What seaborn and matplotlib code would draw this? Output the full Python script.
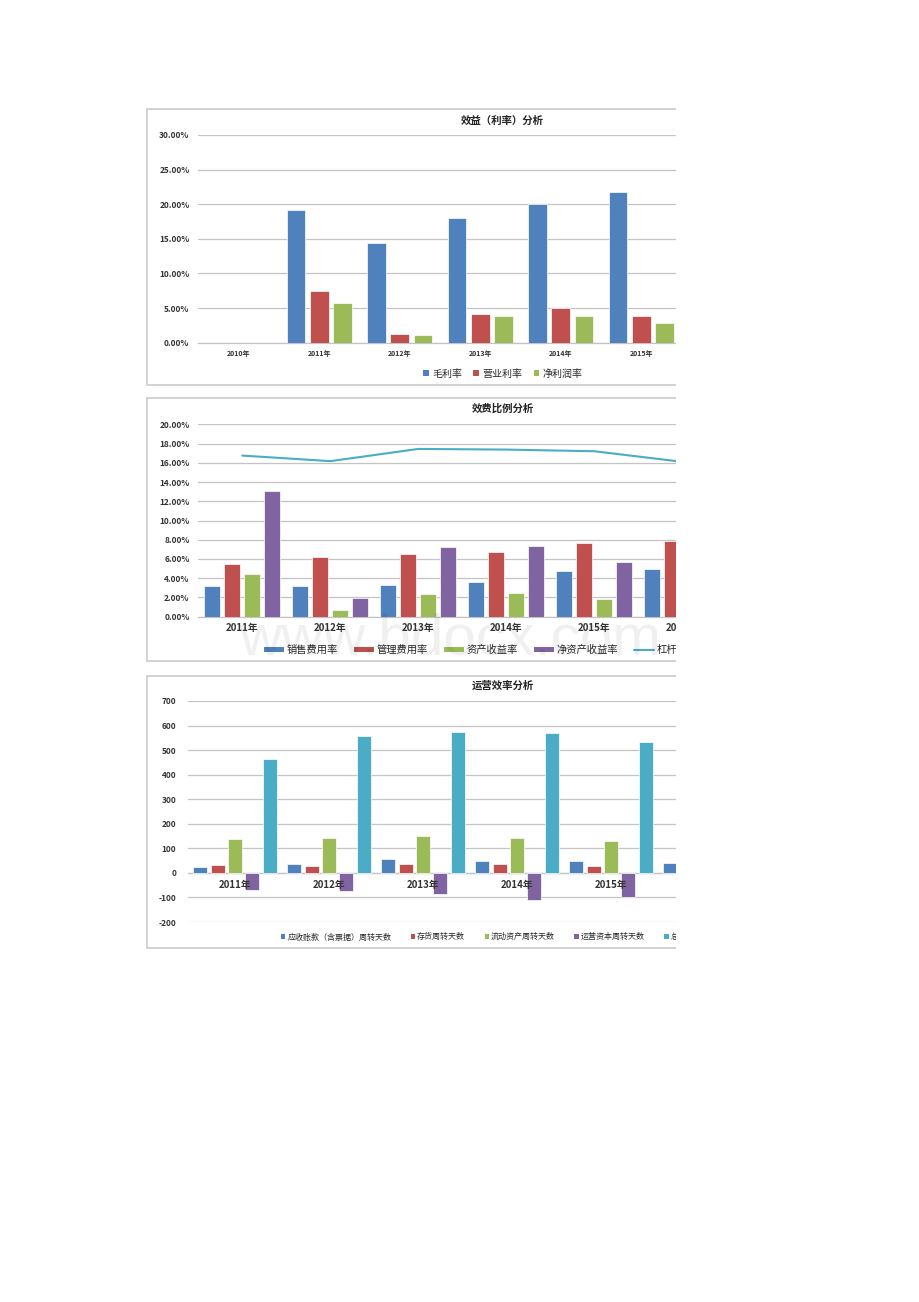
import numpy as np
import pandas as pd
import matplotlib
matplotlib.use("Agg")
import matplotlib.pyplot as plt
import seaborn as sns
from matplotlib.patches import Rectangle, Patch
from matplotlib.lines import Line2D

sns.set_style("white")
plt.rcParams["font.family"] = ["Noto Sans CJK SC", "DejaVu Sans"]

nan = np.nan

# ---------------- data: chart 1 ----------------
title1 = "效益（利率）分析"
years1 = ["2010年", "2011年", "2012年", "2013年", "2014年", "2015年"]
series1 = ["毛利率", "营业利率", "净利润率"]
gross_margin = [0, 19.2, 14.45, 18.0, 20.1, 21.7]
operating_margin = [0, 7.5, 1.3, 4.2, 5.0, 3.9]
net_margin = [0, 5.8, 1.06, 3.8, 3.8, 2.8]
yticks1 = [0, 5, 10, 15, 20, 25, 30]

# ---------------- data: chart 2 ----------------
title2 = "效费比例分析"
years2 = ["2011年", "2012年", "2013年", "2014年", "2015年", "2016年"]
series2 = ["销售费用率", "管理费用率", "资产收益率", "净资产收益率"]
selling_exp = [3.2, 3.14, 3.25, 3.63, 4.8, 4.93]
admin_exp = [5.5, 6.25, 6.5, 6.77, 7.7, 7.9]
roa = [4.4, 0.66, 2.38, 2.45, 1.85, nan]
roe = [13.1, 1.9, 7.25, 7.36, 5.65, nan]
leverage_name = "杠杆比率"
leverage = [16.75, 16.17, 17.44, 17.37, 17.2, 16.1]
yticks2 = [0, 2, 4, 6, 8, 10, 12, 14, 16, 18, 20]

# ---------------- data: chart 3 ----------------
title3 = "运营效率分析"
years3 = ["2011年", "2012年", "2013年", "2014年", "2015年", "2016年"]
series3 = ["应收账款（含票据）周转天数", "存货周转天数", "流动资产周转天数",
           "运营资本周转天数", "总资产周转天数"]
ar_days = [26, 35, 57, 50, 50, 39]
inv_days = [32, 30, 36, 36, 30, nan]
ca_days = [138, 141, 149, 141, 131, nan]
wc_days = [-69, -72, -86, -111, -99, nan]
ta_days = [463, 559, 574, 568, 534, nan]
yticks3 = [-200, -100, 0, 100, 200, 300, 400, 500, 600, 700]

watermark = "www.bdocx.com"

BLUE, RED, GREEN, PURPLE, CYAN = "#4F81BD", "#C0504D", "#9BBB59", "#8064A2", "#4BACC6"
GRID = "#C4C4C4"

W, H = 920, 1302
fig = plt.figure(figsize=(W / 100, H / 100), dpi=100)
fig.patch.set_facecolor("white")


def rect(l, t, r, b):
    return [l / W, 1 - b / H, (r - l) / W, (b - t) / H]


def long_df(years, series, cols):
    rows = []
    for s, vals in zip(series, cols):
        for y, v in zip(years, vals):
            rows.append({"year": y, "series": s, "value": v})
    return pd.DataFrame(rows)


def bars(ax, years, series, cols, colors, width, gap):
    df = long_df(years, series, cols)
    sns.barplot(data=df, x="year", y="value", hue="series", order=years,
                hue_order=series, palette=colors, saturation=1, width=width,
                gap=gap, edgecolor="white", linewidth=0.5, errorbar=None,
                legend=False, ax=ax)
    ax.set_xlim(-0.5, len(years) - 0.5)
    ax.set_xlabel("")
    ax.set_ylabel("")
    ax.set_facecolor("none")
    for s in ["top", "right", "left"]:
        ax.spines[s].set_visible(False)
    ax.spines["bottom"].set_color(GRID)
    ax.spines["bottom"].set_linewidth(0.9)
    ax.spines["bottom"].set_zorder(0.6)
    ax.yaxis.grid(True, color=GRID, linewidth=0.9)
    ax.set_axisbelow(True)
    ax.xaxis.set_zorder(3)
    ax.tick_params(length=0)


def box(t, b):
    fig.add_artist(Rectangle((147 / W, 1 - b / H), (905 - 147) / W, (b - t) / H,
                             transform=fig.transFigure, fill=False,
                             edgecolor="#CFCFCF", linewidth=1.3, zorder=-1))


# ---------------- chart 1 ----------------
box(109.3, 384.5)
ax1 = fig.add_axes(rect(198.5, 135, 198.5 + 6 * 80.5, 342.7))
bars(ax1, years1, series1, [gross_margin, operating_margin, net_margin],
     [BLUE, RED, GREEN], 0.868, 0.19)
ax1.set_ylim(0, 30)
ax1.set_yticks(yticks1)
ax1.set_yticklabels([f"{v:.2f}%" for v in yticks1], fontsize=6, fontweight="bold", color="#333333")
ax1.tick_params(axis="y", pad=6.5)
ax1.tick_params(axis="x", labelsize=5, pad=5, labelcolor="#333333")
for lb in ax1.get_xticklabels():
    lb.set_fontweight("bold")
fig.text(502 / W, 1 - 120.4 / H, title1, ha="center", va="center",
         fontsize=7.5, fontweight="bold", color="#222222")
h1 = [Patch(facecolor=c, edgecolor="none") for c in [BLUE, RED, GREEN]]
fig.legend(h1, series1, loc="center", bbox_to_anchor=(503 / W, 1 - 374 / H),
           ncol=3, frameon=False, fontsize=7.2, handlelength=0.55,
           handleheight=0.55, handletextpad=0.35, columnspacing=1.1,
           borderpad=0, borderaxespad=0)

# ---------------- chart 2 ----------------
box(398.4, 661)
ax2 = fig.add_axes(rect(198.3, 424.3, 198.3 + 6 * 88, 616.7))
bars(ax2, years2, series2, [selling_exp, admin_exp, roa, roe],
     [BLUE, RED, GREEN, PURPLE], 0.909, 0.215)
sns.lineplot(x=years2, y=leverage, color=CYAN, linewidth=1.5, ax=ax2)
ax2.set_xlim(-0.5, len(years2) - 0.5)
ax2.set_ylim(0, 20)
ax2.set_yticks(yticks2)
ax2.set_yticklabels([f"{v:.2f}%" for v in yticks2], fontsize=6, fontweight="bold", color="#333333")
ax2.tick_params(axis="y", pad=6.3)
ax2.tick_params(axis="x", labelsize=7, pad=4.5, labelcolor="#333333")
for lb in ax2.get_xticklabels():
    lb.set_fontweight("bold")
fig.text(502.5 / W, 1 - 409 / H, title2, ha="center", va="center",
         fontsize=7.5, fontweight="bold", color="#222222")
h2 = [Patch(facecolor=c, edgecolor="none") for c in [BLUE, RED, GREEN, PURPLE]]
h2.append(Line2D([0], [0], color=CYAN, linewidth=1.5))
fig.legend(h2, series2 + [leverage_name], loc="center left",
           bbox_to_anchor=(264.3 / W, 1 - 650 / H), ncol=5, frameon=False,
           fontsize=7.4, handlelength=1.95, handleheight=0.45,
           handletextpad=0.25, columnspacing=1.55, borderpad=0,
           borderaxespad=0)

# ---------------- chart 3 ----------------
box(676, 948)
ax3 = fig.add_axes(rect(188, 701, 188 + 6 * 94, 922.3))
bars(ax3, years3, series3, [ar_days, inv_days, ca_days, wc_days, ta_days],
     [BLUE, RED, GREEN, PURPLE, CYAN], 0.93, 0.2)
ax3.set_ylim(-201, 700)
ax3.set_yticks(yticks3)
ax3.set_yticklabels([str(v) for v in yticks3], fontsize=6, fontweight="bold", color="#333333")
ax3.spines["bottom"].set_position(("data", 0))
ax3.tick_params(axis="y", pad=8.3)
ax3.tick_params(axis="x", labelsize=7, pad=5, labelcolor="#333333")
for lb in ax3.get_xticklabels():
    lb.set_fontweight("bold")
fig.text(502.5 / W, 1 - 686 / H, title3, ha="center", va="center",
         fontsize=7.5, fontweight="bold", color="#222222")
h3 = [Patch(facecolor=c, edgecolor="none") for c in [BLUE, RED, GREEN, PURPLE, CYAN]]
fig.legend(h3, series3, loc="center left",
           bbox_to_anchor=(281 / W, 1 - 936.7 / H), ncol=5, frameon=False,
           fontsize=5.8, handlelength=0.55, handleheight=0.55,
           handletextpad=0.25, columnspacing=2.4, borderpad=0,
           borderaxespad=0)

# ---------------- watermark & page crop ----------------
fig.text(450 / W, 1 - 640 / H, watermark, ha="center", va="center",
         fontsize=42, color="#000000", alpha=0.06,
         family=["Liberation Sans", "DejaVu Sans"], zorder=50)
fig.add_artist(Rectangle((676 / W, 0), 1, 1, transform=fig.transFigure,
                         facecolor="white", edgecolor="none", zorder=100))

fig.savefig("out.png", dpi=100, facecolor="white")
